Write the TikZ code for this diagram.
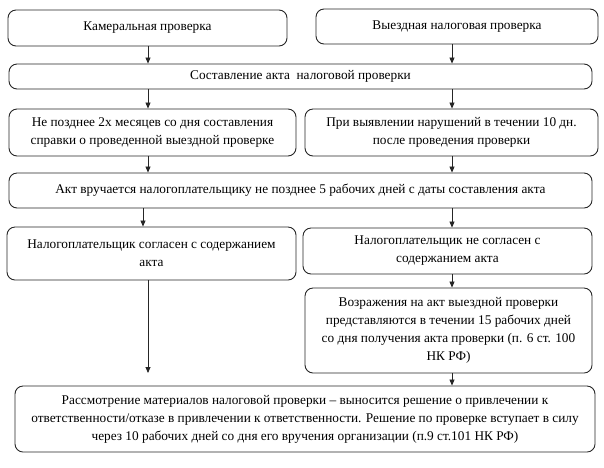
\documentclass[tikz,border=0pt]{standalone}
\usepackage{fontspec}
\setmainfont{Liberation Serif}
\usetikzlibrary{arrows.meta,positioning}

\begin{document}
\begin{tikzpicture}[x=1pt, y=-1pt,
  box/.style={draw=black!85, line width=0.9pt, rounded corners=8pt, align=center,
    inner sep=2pt, font=\fontsize{13.3}{18}\selectfont},
  arr/.style={draw=black!85, line width=0.8pt, -{Triangle[width=5pt,length=6pt]}}]
\useasboundingbox (0,0) rectangle (604,467);

% Arrow columns
\coordinate (colL) at (148,0);
\coordinate (colM) at (143,0);
\coordinate (colR) at (452,0);
\coordinate (endL) at (148,373);

% Kinds of check
\node[box, minimum width=279pt, minimum height=36pt] (kam) at (147.5,28) {Камеральная проверка};
\node[box, minimum width=282pt, minimum height=35pt] (vyezd) at (457,26.5) {Выездная налоговая проверка};

% Act of the check
\node[box, minimum width=583pt, minimum height=25pt] (akt) at (300.5,76.5) {Составление акта~ налоговой проверки};

% Terms
\node[box, minimum width=287pt, minimum height=47pt] (srokL) at (152.5,132.5)
  {Не позднее 2х месяцев со дня составления\\справки о проведенной выездной проверке};
\node[box, minimum width=293pt, minimum height=47pt] (srokR) at (451.5,132.5)
  {При выявлении нарушений в течении 10 дн.\\после проведения проверки};

% Handing over
\node[box, minimum width=583pt, minimum height=35pt] (vruch) at (300.5,190.5)
  {Акт вручается налогоплательщику не позднее 5 рабочих дней с даты составления акта};

% Reaction of the taxpayer
\node[box, minimum width=289pt, minimum height=53pt] (sogl) at (151.5,253.5)
  {Налогоплательщик согласен с содержанием\\акта};
\node[box, minimum width=289pt, minimum height=46pt] (nesogl) at (447.5,251)
  {Налогоплательщик не согласен с\\содержанием акта};
\node[box, minimum width=287pt, minimum height=85pt] (vozr) at (448.5,330.5)
  {Возражения на акт выездной проверки\\представляются в течении 15 рабочих дней\\со дня получения акта проверки (п. 6 ст. 100\\НК РФ)};

% Decision
\node[box, minimum width=580pt, minimum height=66pt] (rassm) at (305,419)
  {Рассмотрение материалов налоговой проверки -- выносится решение о привлечении к\\ответственности/отказе в привлечении к ответственности. Решение по проверке вступает в силу\\через 10 рабочих дней со дня его вручения организации (п.9 ст.101 НК РФ)};

% Arrows
\draw[arr] (kam.south -| colL) -- (akt.north -| colL);
\draw[arr] (vyezd.south -| colR) -- (akt.north -| colR);
\draw[arr] (akt.south -| colL) -- (srokL.north -| colL);
\draw[arr] (akt.south -| colR) -- (srokR.north -| colR);
\draw[arr] (srokL.south -| colL) -- (vruch.north -| colL);
\draw[arr] (srokR.south -| colR) -- (vruch.north -| colR);
\draw[arr] (vruch.south -| colM) -- (sogl.north -| colM);
\draw[arr] (vruch.south -| colR) -- (nesogl.north -| colR);
\draw[arr] (nesogl.south -| colR) -- (vozr.north -| colR);
\draw[arr] (sogl.south -| colL) -- (endL);
\draw[arr] (vozr.south -| colR) -- (rassm.north -| colR);
\end{tikzpicture}
\end{document}
